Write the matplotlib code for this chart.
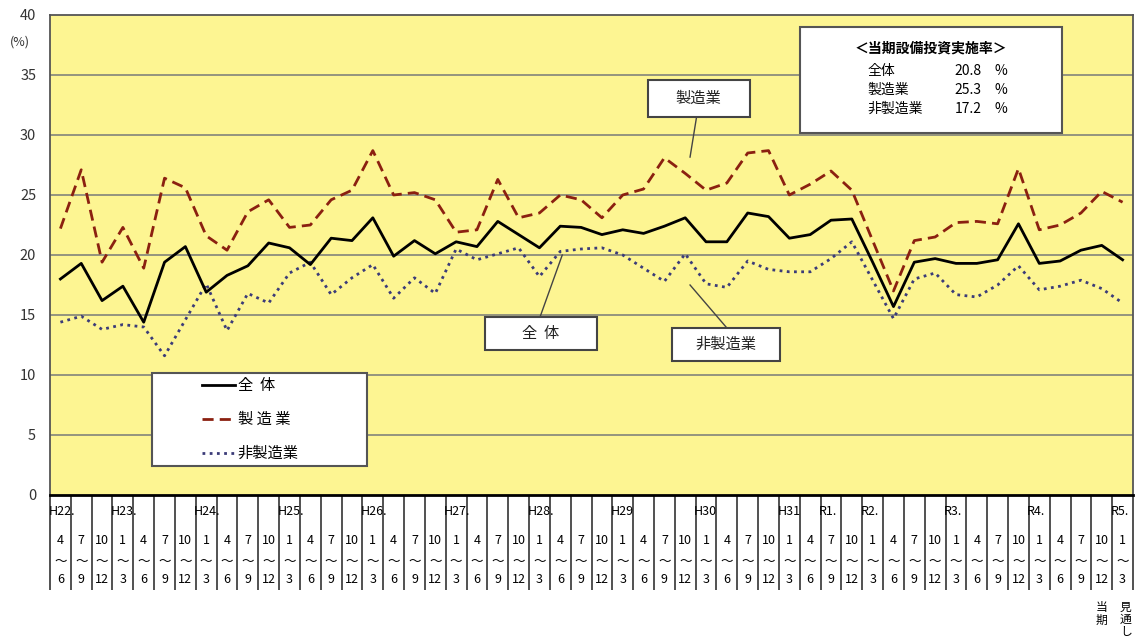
import matplotlib
matplotlib.use("Agg")
import matplotlib.pyplot as plt
from matplotlib.patches import Rectangle
import numpy as np

plt.rcParams['font.family'] = ['Noto Sans CJK JP', 'DejaVu Sans']

# quarters H22.4-6 ... R5.1-3 (last one is the outlook)
q_start = ['4', '7', '10', '1']
q_end = ['6', '9', '12', '3']
n_points = 52
year_labels = {0: 'H22.', 3: 'H23.', 7: 'H24.', 11: 'H25.', 15: 'H26.', 19: 'H27.',
               23: 'H28.', 27: 'H29', 31: 'H30', 35: 'H31', 37: 'R1.', 39: 'R2.',
               43: 'R3.', 47: 'R4.', 51: 'R5.'}

# 全体
total = [18.0, 19.3, 16.2, 17.4, 14.4, 19.4, 20.7, 16.9, 18.3, 19.1,
         21.0, 20.6, 19.2, 21.4, 21.2, 23.1, 19.9, 21.2, 20.1, 21.1,
         20.7, 22.8, 21.7, 20.6, 22.4, 22.3, 21.7, 22.1, 21.8, 22.4,
         23.1, 21.1, 21.1, 23.5, 23.2, 21.4, 21.7, 22.9, 23.0, 19.4,
         15.7, 19.4, 19.7, 19.3, 19.3, 19.6, 22.6, 19.3, 19.5, 20.4,
         20.8, 19.6]
# 製造業
manu = [22.2, 27.1, 19.4, 22.3, 18.9, 26.4, 25.6, 21.6, 20.4, 23.6,
        24.6, 22.3, 22.5, 24.6, 25.4, 28.7, 25.0, 25.2, 24.6, 21.9,
        22.1, 26.3, 23.1, 23.5, 25.0, 24.6, 23.1, 25.0, 25.5, 28.1,
        26.8, 25.4, 26.0, 28.5, 28.7, 25.0, 25.9, 27.0, 25.4, 21.2,
        17.0, 21.2, 21.5, 22.7, 22.8, 22.6, 27.2, 22.1, 22.5, 23.5,
        25.3, 24.4]
# 非製造業
nonmanu = [14.4, 14.9, 13.8, 14.2, 14.0, 11.6, 14.6, 17.6, 13.7, 16.8,
           16.0, 18.5, 19.4, 16.7, 18.1, 19.2, 16.4, 18.1, 16.8, 20.5,
           19.6, 20.1, 20.6, 18.2, 20.3, 20.5, 20.6, 20.0, 18.9, 17.8,
           20.1, 17.6, 17.3, 19.5, 18.8, 18.6, 18.6, 19.7, 21.1, 17.9,
           14.7, 18.0, 18.5, 16.7, 16.5, 17.5, 19.1, 17.1, 17.4, 17.9,
           17.2, 16.0]

info_names = ['全体', '製造業', '非製造業']
info_values = [20.8, 25.3, 17.2]

x = np.arange(n_points)

fig = plt.figure(figsize=(11.36, 6.39), dpi=100)
ax = fig.add_axes([50 / 1136, 1 - 495 / 639, 1083 / 1136, 480 / 639])
ax.set_facecolor('#FDF592')

for yy in range(5, 40, 5):
    ax.axhline(yy, color='#8c8c7c', lw=1.3, zorder=1)

l1, = ax.plot(x, total, color='black', lw=2.0, zorder=4)
l2, = ax.plot(x, manu, color='#8B2010', lw=2.0, ls=(0, (4, 2.2)), zorder=3)
l3, = ax.plot(x, nonmanu, color='#3b3b78', lw=2.0, ls=(0, (1, 1.6)), zorder=3)

ax.set_xlim(-0.5, n_points - 0.5)
ax.set_ylim(0, 40)
ax.set_yticks(range(0, 41, 5))
ax.tick_params(axis='y', length=0, labelsize=10.5, pad=10, colors='#333333')
ax.set_xticks([])
for s in ['top', 'right', 'left']:
    ax.spines[s].set_color('#555555')
    ax.spines[s].set_linewidth(1.3)
ax.spines['bottom'].set_color('black')
ax.spines['bottom'].set_linewidth(2.0)

fig.text(20 / 1136, 1 - 42 / 639, '(%)', fontsize=9, ha='center', va='center', color='#333333')

# category cells under the axis
xt = ax.get_xaxis_transform()
ax.vlines(np.arange(-0.5, n_points), -0.198, 0, transform=xt, colors='#222222',
          lw=1.1, clip_on=False)
for i in range(n_points):
    ax.text(i, -0.094, q_start[i % 4], transform=xt, ha='center', va='center', fontsize=9)
    ax.text(i, -0.1375, '～', transform=xt, ha='center', va='center', fontsize=9)
    ax.text(i, -0.177, q_end[i % 4], transform=xt, ha='center', va='center', fontsize=9)
for i, lab in year_labels.items():
    ax.text(i - 0.58, -0.035, lab, transform=xt, ha='left', va='center', fontsize=9)
ax.text(n_points - 2, -0.247, '当\n期', transform=xt, ha='center', va='center',
        fontsize=8.5, linespacing=1.0)
ax.text(n_points - 1 + 0.15, -0.259, '見\n通\nし', transform=xt, ha='center', va='center',
        fontsize=8.5, linespacing=0.92)

# line labels with connectors
def callout(text, cx, cy, bx, by, bw, bh, x0, y0, x1, y1):
    ax.add_patch(Rectangle((bx, by), bw, bh, transform=ax.transAxes, facecolor='white',
                           edgecolor='#444444', lw=1.5, zorder=6))
    ax.text(cx, cy, text, transform=ax.transAxes, ha='center', va='center',
            fontsize=11, zorder=7, color='#222222')
    ax.plot([x0, x1], [y0, y1], transform=ax.transAxes, color='#444444', lw=1.0, zorder=6)

callout('製造業', 0.599, 0.826, 0.552, 0.7875, 0.094, 0.077, 0.597, 0.7875, 0.591, 0.704)
callout('全  体', 0.453, 0.336, 0.4017, 0.302, 0.1034, 0.069, 0.4525, 0.371, 0.473, 0.50)
callout('非製造業', 0.624, 0.313, 0.574, 0.279, 0.100, 0.069, 0.625, 0.348, 0.591, 0.4375)

# info box
ax.add_patch(Rectangle((0.6925, 0.754), 0.2419, 0.221, transform=ax.transAxes,
                       facecolor='white', edgecolor='#555555', lw=1.5, zorder=6))
ax.text(0.8135, 0.931, '＜当期設備投資実施率＞', transform=ax.transAxes, ha='center',
        va='center', fontsize=10, fontweight='bold', zorder=7)
for k, (nm, v) in enumerate(zip(info_names, info_values)):
    yy = 0.883 - k * 0.0395
    ax.text(0.755, yy, nm, transform=ax.transAxes, ha='left', va='center', fontsize=10, zorder=7)
    ax.text(0.860, yy, f'{v:.1f}', transform=ax.transAxes, ha='right', va='center',
            fontsize=10, zorder=7)
    ax.text(0.872, yy, '%', transform=ax.transAxes, ha='left', va='center', fontsize=10, zorder=7)

# legend
ax.add_patch(Rectangle((0.094, 0.060), 0.199, 0.194, transform=ax.transAxes,
                       facecolor='white', edgecolor='#555555', lw=1.5, zorder=6))
leg = ax.legend([l1, l2, l3], ['全  体', '製 造 業', '非製造業'], loc='center left',
                bbox_to_anchor=(0.140, 0.157), frameon=False, fontsize=11,
                handlelength=2.2, handletextpad=0.15, labelspacing=1.1,
                borderpad=0, borderaxespad=0)
leg.set_zorder(8)

fig.savefig('out.png', dpi=100)
